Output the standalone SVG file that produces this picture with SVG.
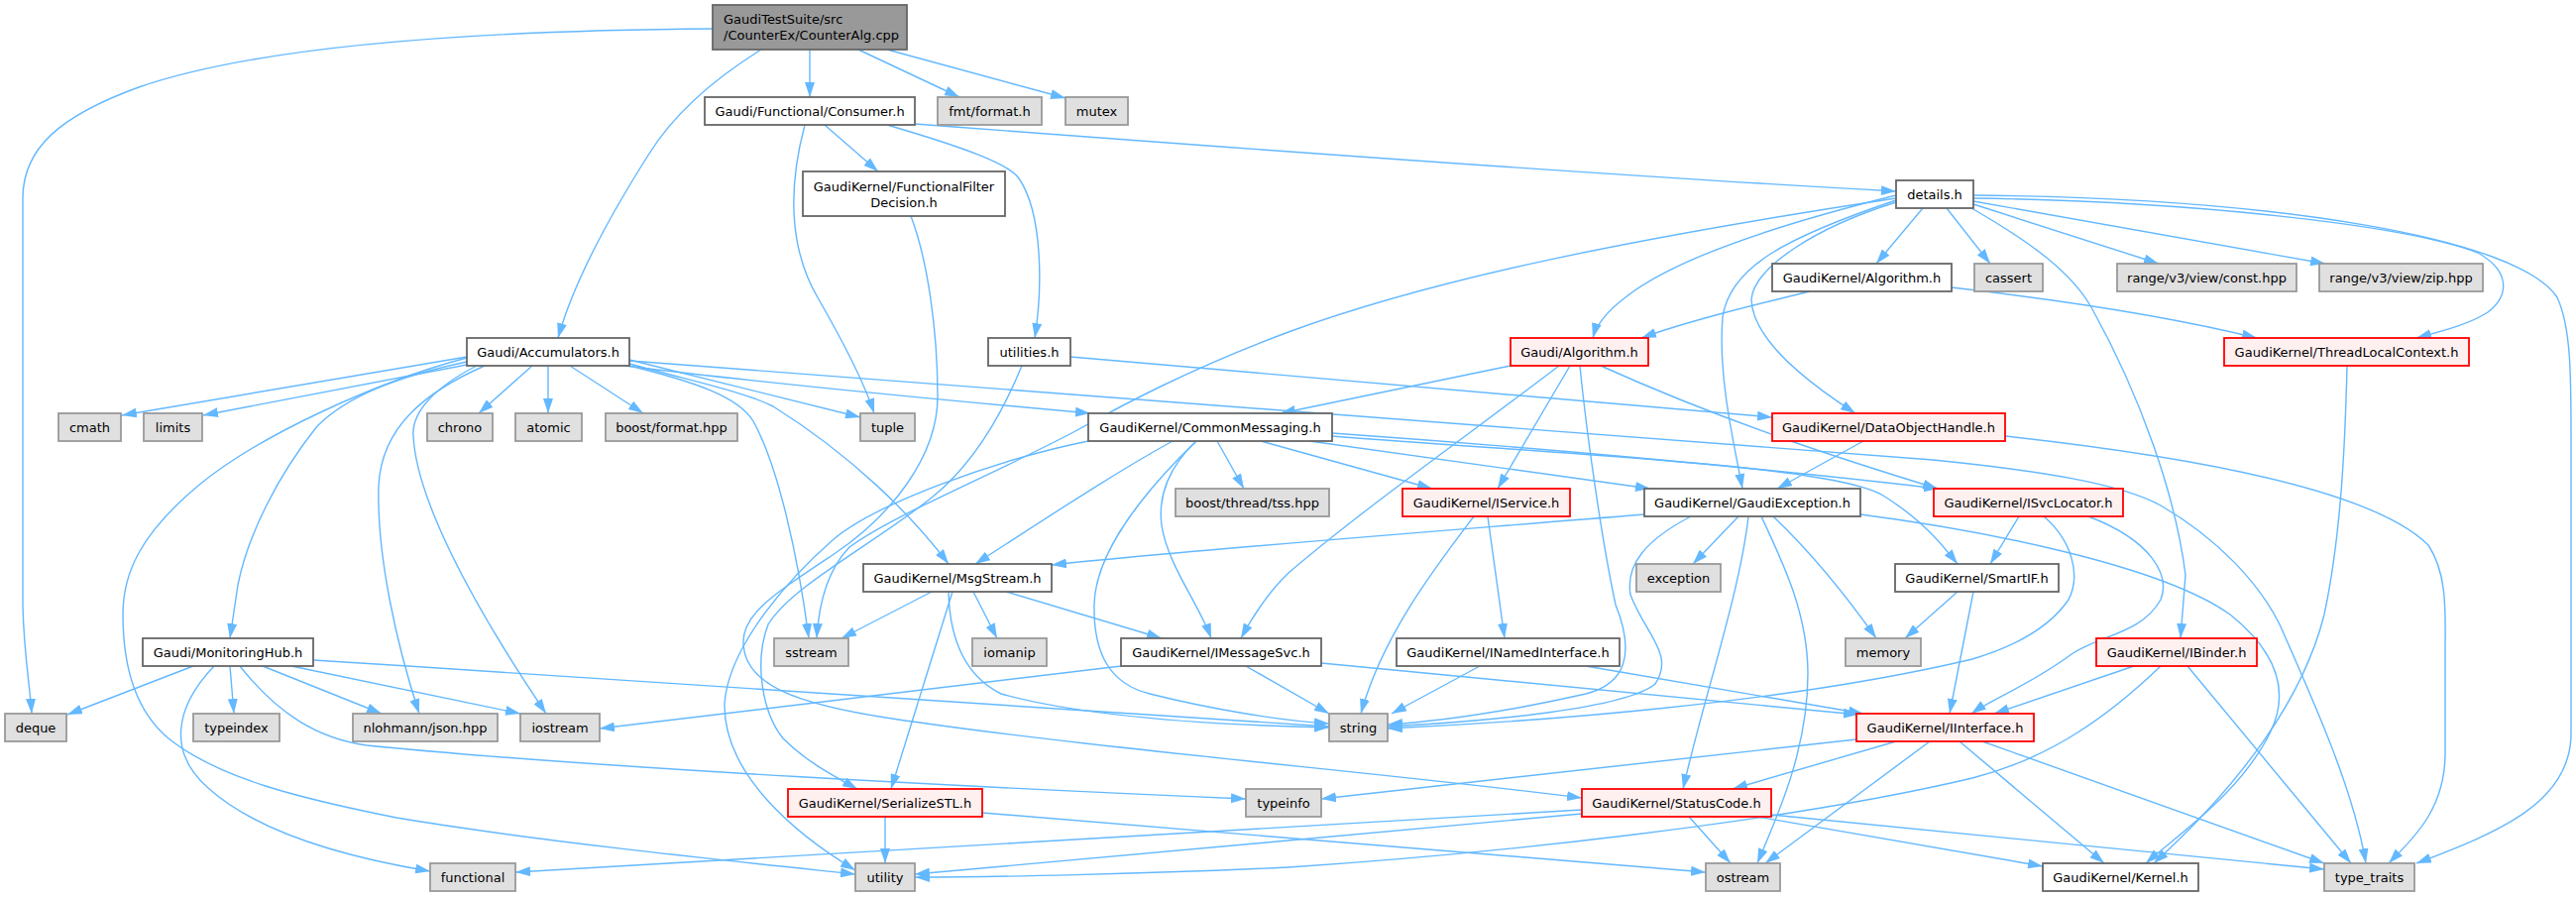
<svg xmlns="http://www.w3.org/2000/svg" width="2599" height="905" viewBox="0 0 2599 905">
<defs>
<marker id="ah" viewBox="0 0 15 10" refX="15" refY="5" markerWidth="15" markerHeight="10" markerUnits="userSpaceOnUse" orient="auto"><path d="M0,0L15,5L0,10z" fill="#63b8ff"/></marker>
<style>
text{font-family:"DejaVu Sans","Liberation Sans",sans-serif;font-size:13px;fill:#000;text-anchor:middle}
.t rect{fill:#999999;stroke:#666666;stroke-width:1.8}
.w rect{fill:#ffffff;stroke:#666666;stroke-width:1.8}
.x rect{fill:#e0e0e0;stroke:#999999;stroke-width:1.8}
.r rect{fill:#fff0f0;stroke:#ff0000;stroke-width:1.8}
#edges path{fill:none;stroke:#63b8ff;stroke-width:1.4;marker-end:url(#ah)}
</style>
</defs>
<rect width="2599" height="905" fill="#ffffff"/>
<g id="edges">
<path d="M719,29 C450,31 250,50 140,88 C60,117 23,150 23,200 L23,610 C24,660 30,690 32,720"/>
<path d="M768,50 C720,80 680,115 655,155 C620,210 580,280 563,341"/>
<path d="M817,50 L817,98"/>
<path d="M866,50 L968,98"/>
<path d="M895,50 L1075,99"/>
<path d="M832,126 L886,173"/>
<path d="M812,126 C795,190 795,250 826,302 C845,335 870,380 882,417"/>
<path d="M895,126 C970,148 1018,165 1028,180 C1052,215 1052,290 1044,341"/>
<path d="M923,125 C1200,146 1600,176 1913,193"/>
<path d="M919,218 C935,260 946,330 946,400 C946,460 900,520 840,560 C780,600 748,620 750,650 C752,690 800,710 900,725 C1100,755 1400,780 1596,805"/>
<path d="M471,360 L123,419"/>
<path d="M471,368 L205,419"/>
<path d="M471,361 C380,385 260,440 200,490 C140,540 124,580 124,620 C124,680 140,720 170,745 C220,785 300,805 400,825 C550,850 750,870 863,882"/>
<path d="M471,365 C400,380 350,400 320,430 C280,480 250,540 240,590 L232,644"/>
<path d="M489,369 C430,395 385,430 382,490 C380,560 400,650 423,720"/>
<path d="M481,369 C440,390 415,415 417,440 C420,500 470,600 551,720"/>
<path d="M537,369 L483,417"/>
<path d="M553,369 L553,417"/>
<path d="M575,369 L649,417"/>
<path d="M635,363 L868,421"/>
<path d="M630,369 C800,390 1000,408 1100,417"/>
<path d="M635,367 C700,385 750,395 780,410 C860,460 920,520 957,569"/>
<path d="M635,369 C700,385 745,400 760,425 C785,470 805,560 816,644"/>
<path d="M635,364 L1950,464 C2060,475 2140,488 2180,510 C2240,545 2280,590 2300,630 C2340,720 2375,800 2387,871"/>
<path d="M195,672 L68,721"/>
<path d="M232,672 L236,720"/>
<path d="M265,672 L385,720"/>
<path d="M294,672 L525,720"/>
<path d="M316,666 C700,690 1100,720 1341,733"/>
<path d="M242,672 C280,720 320,745 370,752 C600,775 1000,795 1257,806"/>
<path d="M216,672 C175,715 170,760 210,795 C260,840 350,865 434,879"/>
<path d="M1080,360 L1788,421"/>
<path d="M1031,369 C1010,420 980,470 940,502 C880,550 800,590 775,630 C760,670 770,720 790,745 C815,770 845,785 865,796"/>
<path d="M1098,445 C1000,465 880,510 840,545 C800,580 735,650 731,710 C730,780 800,840 863,878"/>
<path d="M1183,445 C1120,480 1060,520 984,569"/>
<path d="M1207,445 C1150,500 1105,560 1104,610 C1103,660 1120,690 1160,700 C1220,715 1290,727 1341,730"/>
<path d="M1207,445 C1180,470 1168,500 1172,530 C1178,570 1210,610 1222,644"/>
<path d="M1228,445 L1255,493"/>
<path d="M1272,445 L1445,493"/>
<path d="M1321,445 L1665,493"/>
<path d="M1344,437 C1600,455 1800,475 1956,493"/>
<path d="M1344,440 C1600,460 1850,470 1900,500 C1940,525 1960,550 1975,569"/>
<path d="M1913,200 C1650,240 1450,280 1300,335 C1200,372 1130,410 1085,435 C1000,480 900,520 857,552 C835,575 826,610 824,644"/>
<path d="M1913,197 C1800,225 1690,260 1640,300 C1620,315 1610,330 1607,341"/>
<path d="M1913,202 C1800,240 1745,270 1738,320 C1733,380 1750,450 1758,493"/>
<path d="M1913,204 C1830,230 1770,270 1767,302 C1768,345 1830,390 1872,417"/>
<path d="M1940,210 L1893,266"/>
<path d="M1964,210 L2008,266"/>
<path d="M1991,206 L2178,266"/>
<path d="M1991,203 L2346,266"/>
<path d="M1991,200 C2200,203 2420,225 2500,255 C2535,275 2530,300 2510,315 C2490,328 2460,335 2438,341"/>
<path d="M1991,197 C2300,200 2540,240 2580,300 C2594,330 2594,380 2594,440 L2594,740 C2594,810 2520,840 2438,871"/>
<path d="M1989,210 C2050,245 2090,275 2110,310 C2160,400 2195,500 2205,580 L2200,644"/>
<path d="M1826,294 C1760,310 1700,325 1656,341"/>
<path d="M1969,290 C2100,305 2200,322 2277,341"/>
<path d="M1524,369 L1292,417"/>
<path d="M1573,369 C1480,440 1380,510 1300,578 C1280,597 1265,620 1252,644"/>
<path d="M1584,369 L1511,493"/>
<path d="M1594,369 C1600,430 1615,540 1630,610 C1650,660 1640,690 1600,700 C1520,718 1450,728 1400,731"/>
<path d="M1615,369 C1750,430 1880,470 1955,493"/>
<path d="M1487,521 C1450,570 1395,640 1373,720"/>
<path d="M1501,521 L1518,644"/>
<path d="M1659,519 C1400,540 1200,555 1061,570"/>
<path d="M1754,521 L1708,569"/>
<path d="M1706,521 C1660,545 1640,570 1645,600 C1660,640 1690,660 1670,690 C1640,715 1500,728 1400,733"/>
<path d="M1764,521 C1755,600 1720,700 1698,796"/>
<path d="M1777,521 C1800,570 1824,620 1824,680 C1824,760 1790,830 1773,871"/>
<path d="M1789,521 C1830,560 1862,600 1893,644"/>
<path d="M1877,519 C2000,535 2180,570 2250,620 C2300,660 2310,700 2290,740 C2260,800 2200,840 2165,871"/>
<path d="M1880,445 L1793,493"/>
<path d="M2023,440 C2250,465 2400,500 2450,550 C2470,580 2467,620 2467,660 L2467,760 C2467,820 2430,850 2410,871"/>
<path d="M2368,369 C2366,450 2362,540 2345,620 C2320,720 2240,810 2173,871"/>
<path d="M2037,521 L2008,569"/>
<path d="M2062,521 C2090,545 2100,580 2087,605 C2070,630 2040,650 1990,665 C1800,710 1550,728 1400,735"/>
<path d="M2107,521 C2170,545 2190,580 2180,605 C2160,640 2120,640 2090,660 C2050,690 2010,705 1989,720"/>
<path d="M1975,597 L1922,644"/>
<path d="M1991,597 L1967,720"/>
<path d="M940,597 L849,644"/>
<path d="M961,597 L899,796"/>
<path d="M957,597 C958,640 970,680 1010,700 C1100,725 1250,732 1341,734"/>
<path d="M982,597 L1006,644"/>
<path d="M1015,597 L1172,644"/>
<path d="M1131,672 C900,700 700,725 605,735"/>
<path d="M1257,672 L1341,720"/>
<path d="M1333,669 L1875,721"/>
<path d="M1493,672 L1404,720"/>
<path d="M1600,672 L1880,720"/>
<path d="M2153,672 L2012,720"/>
<path d="M2180,672 C2130,720 2070,765 1990,785 C1800,830 1500,862 1300,875 C1150,882 1000,885 923,885"/>
<path d="M2207,672 L2372,871"/>
<path d="M1873,746 L1333,806"/>
<path d="M1913,748 L1748,796"/>
<path d="M1947,748 L1781,871"/>
<path d="M1977,748 L2123,871"/>
<path d="M2000,748 L2345,871"/>
<path d="M893,824 L893,871"/>
<path d="M991,820 L1721,880"/>
<path d="M1596,817 L520,880"/>
<path d="M1596,821 C1400,840 1100,865 923,882"/>
<path d="M1704,824 L1746,871"/>
<path d="M1773,824 L2061,874"/>
<path d="M1787,822 L2345,877"/>
</g>
<g id="n_top" class="t"><rect x="719" y="5" width="196" height="45"/><text x="730" y="24" style="text-anchor:start">GaudiTestSuite/src</text><text x="730" y="40" style="text-anchor:start">/CounterEx/CounterAlg.cpp</text></g>
<g id="n_consumer" class="w"><rect x="711" y="98" width="212" height="28"/><text x="817" y="117">Gaudi/Functional/Consumer.h</text></g>
<g id="n_fmt" class="x"><rect x="946" y="98" width="105" height="28"/><text x="998.5" y="117">fmt/format.h</text></g>
<g id="n_mutex" class="x"><rect x="1075" y="98" width="63" height="28"/><text x="1106.5" y="117">mutex</text></g>
<g id="n_ffd" class="w"><rect x="810" y="173" width="204" height="45"/><text x="912" y="193">GaudiKernel/FunctionalFilter</text><text x="912" y="209">Decision.h</text></g>
<g id="n_details" class="w"><rect x="1913" y="182" width="78" height="28"/><text x="1952" y="201">details.h</text></g>
<g id="n_gkalg" class="w"><rect x="1788" y="266" width="181" height="28"/><text x="1878.5" y="285">GaudiKernel/Algorithm.h</text></g>
<g id="n_cassert" class="x"><rect x="1992" y="266" width="69" height="28"/><text x="2026.5" y="285">cassert</text></g>
<g id="n_rconst" class="x"><rect x="2136" y="266" width="181" height="28"/><text x="2226.5" y="285">range/v3/view/const.hpp</text></g>
<g id="n_rzip" class="x"><rect x="2340" y="266" width="165" height="28"/><text x="2422.5" y="285">range/v3/view/zip.hpp</text></g>
<g id="n_accum" class="w"><rect x="471" y="341" width="164" height="28"/><text x="553" y="360">Gaudi/Accumulators.h</text></g>
<g id="n_utilities" class="w"><rect x="997" y="341" width="83" height="28"/><text x="1038.5" y="360">utilities.h</text></g>
<g id="n_galg" class="r"><rect x="1524" y="341" width="139" height="28"/><text x="1593.5" y="360">Gaudi/Algorithm.h</text></g>
<g id="n_tlc" class="r"><rect x="2244" y="341" width="247" height="28"/><text x="2367.5" y="360">GaudiKernel/ThreadLocalContext.h</text></g>
<g id="n_cmath" class="x"><rect x="59" y="417" width="63" height="28"/><text x="90.5" y="436">cmath</text></g>
<g id="n_limits" class="x"><rect x="145" y="417" width="59" height="28"/><text x="174.5" y="436">limits</text></g>
<g id="n_chrono" class="x"><rect x="431" y="417" width="66" height="28"/><text x="464" y="436">chrono</text></g>
<g id="n_atomic" class="x"><rect x="520" y="417" width="67" height="28"/><text x="553.5" y="436">atomic</text></g>
<g id="n_bformat" class="x"><rect x="611" y="417" width="133" height="28"/><text x="677.5" y="436">boost/format.hpp</text></g>
<g id="n_tuple" class="x"><rect x="868" y="417" width="55" height="28"/><text x="895.5" y="436">tuple</text></g>
<g id="n_commsg" class="w"><rect x="1098" y="417" width="246" height="28"/><text x="1221" y="436">GaudiKernel/CommonMessaging.h</text></g>
<g id="n_doh" class="r"><rect x="1788" y="417" width="235" height="28"/><text x="1905.5" y="436">GaudiKernel/DataObjectHandle.h</text></g>
<g id="n_tss" class="x"><rect x="1186" y="493" width="155" height="28"/><text x="1263.5" y="512">boost/thread/tss.hpp</text></g>
<g id="n_iservice" class="r"><rect x="1415" y="493" width="169" height="28"/><text x="1499.5" y="512">GaudiKernel/IService.h</text></g>
<g id="n_gexc" class="w"><rect x="1659" y="493" width="218" height="28"/><text x="1768" y="512">GaudiKernel/GaudiException.h</text></g>
<g id="n_isvcloc" class="r"><rect x="1951" y="493" width="191" height="28"/><text x="2046.5" y="512">GaudiKernel/ISvcLocator.h</text></g>
<g id="n_msgstream" class="w"><rect x="871" y="569" width="190" height="28"/><text x="966" y="588">GaudiKernel/MsgStream.h</text></g>
<g id="n_exception" class="x"><rect x="1651" y="569" width="85" height="28"/><text x="1693.5" y="588">exception</text></g>
<g id="n_smartif" class="w"><rect x="1912" y="569" width="165" height="28"/><text x="1994.5" y="588">GaudiKernel/SmartIF.h</text></g>
<g id="n_monhub" class="w"><rect x="144" y="644" width="172" height="28"/><text x="230" y="663">Gaudi/MonitoringHub.h</text></g>
<g id="n_sstream" class="x"><rect x="781" y="644" width="75" height="28"/><text x="818.5" y="663">sstream</text></g>
<g id="n_iomanip" class="x"><rect x="981" y="644" width="75" height="28"/><text x="1018.5" y="663">iomanip</text></g>
<g id="n_imsgsvc" class="w"><rect x="1131" y="644" width="202" height="28"/><text x="1232" y="663">GaudiKernel/IMessageSvc.h</text></g>
<g id="n_inamed" class="w"><rect x="1409" y="644" width="225" height="28"/><text x="1521.5" y="663">GaudiKernel/INamedInterface.h</text></g>
<g id="n_memory" class="x"><rect x="1862" y="644" width="76" height="28"/><text x="1900" y="663">memory</text></g>
<g id="n_ibinder" class="r"><rect x="2115" y="644" width="162" height="28"/><text x="2196" y="663">GaudiKernel/IBinder.h</text></g>
<g id="n_deque" class="x"><rect x="5" y="720" width="62" height="28"/><text x="36" y="739">deque</text></g>
<g id="n_typeindex" class="x"><rect x="195" y="720" width="87" height="28"/><text x="238.5" y="739">typeindex</text></g>
<g id="n_nlohmann" class="x"><rect x="356" y="720" width="146" height="28"/><text x="429" y="739">nlohmann/json.hpp</text></g>
<g id="n_iostream" class="x"><rect x="525" y="720" width="80" height="28"/><text x="565" y="739">iostream</text></g>
<g id="n_string" class="x"><rect x="1341" y="720" width="59" height="28"/><text x="1370.5" y="739">string</text></g>
<g id="n_iinterface" class="r"><rect x="1873" y="720" width="179" height="28"/><text x="1962.5" y="739">GaudiKernel/IInterface.h</text></g>
<g id="n_serstl" class="r"><rect x="795" y="796" width="196" height="28"/><text x="893" y="815">GaudiKernel/SerializeSTL.h</text></g>
<g id="n_typeinfo" class="x"><rect x="1257" y="796" width="76" height="28"/><text x="1295" y="815">typeinfo</text></g>
<g id="n_statuscode" class="r"><rect x="1596" y="796" width="191" height="28"/><text x="1691.5" y="815">GaudiKernel/StatusCode.h</text></g>
<g id="n_functional" class="x"><rect x="434" y="871" width="86" height="28"/><text x="477" y="890">functional</text></g>
<g id="n_utility" class="x"><rect x="863" y="871" width="60" height="28"/><text x="893" y="890">utility</text></g>
<g id="n_ostream" class="x"><rect x="1721" y="871" width="75" height="28"/><text x="1758.5" y="890">ostream</text></g>
<g id="n_kernel" class="w"><rect x="2061" y="871" width="157" height="28"/><text x="2139.5" y="890">GaudiKernel/Kernel.h</text></g>
<g id="n_typetraits" class="x"><rect x="2345" y="871" width="91" height="28"/><text x="2390.5" y="890">type_traits</text></g>
</svg>
